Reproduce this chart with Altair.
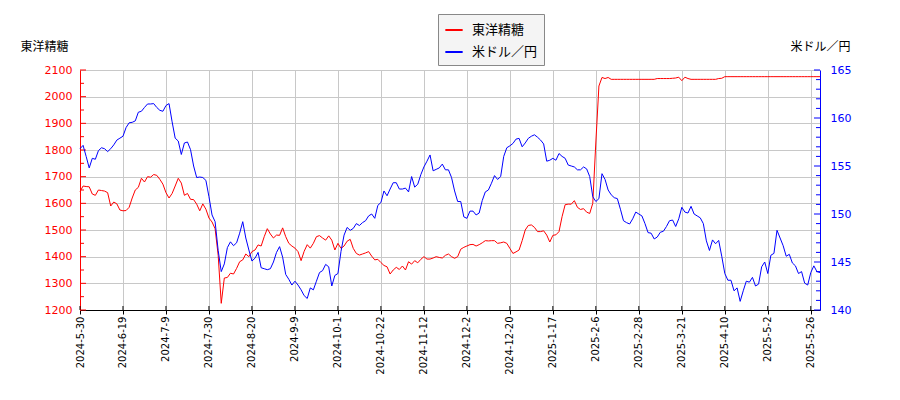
import json
import altair as alt
import pandas as pd

date_labels = ["2024-5-30", "2024-6-19", "2024-7-9", "2024-7-30", "2024-8-20",
               "2024-9-9", "2024-10-1", "2024-10-22", "2024-11-12", "2024-12-2",
               "2024-12-20", "2025-1-17", "2025-2-6", "2025-2-28", "2025-3-21",
               "2025-4-10", "2025-5-2", "2025-5-26"]
label_step = 14

series_names = ["東洋精糖", "米ドル／円"]

toyo = [
    1644, 1665, 1663, 1662, 1635, 1630, 1650, 1648, 1646, 1640,
    1590, 1605, 1598, 1575, 1572, 1573, 1585, 1620, 1650, 1660,
    1694, 1680, 1700, 1698, 1708, 1705, 1690, 1672, 1640, 1620,
    1637, 1665, 1694, 1676, 1630, 1637, 1615, 1614, 1597, 1572,
    1598, 1578, 1545, 1530, 1505, 1405, 1225, 1320, 1322, 1338,
    1335, 1356, 1381, 1388, 1410, 1400, 1419, 1425, 1444, 1440,
    1475, 1505, 1485, 1470, 1481, 1480, 1508, 1475, 1450, 1440,
    1432, 1419, 1385, 1420, 1445, 1432, 1450, 1475, 1479, 1470,
    1462, 1478, 1462, 1425, 1450, 1431, 1440, 1458, 1465, 1431,
    1412, 1406, 1410, 1414, 1419, 1402, 1388, 1390, 1378, 1367,
    1362, 1335, 1350, 1360, 1352, 1365, 1350, 1381, 1372, 1385,
    1377, 1390, 1400, 1391, 1391, 1395, 1400, 1397, 1395, 1405,
    1410, 1400, 1394, 1400, 1428, 1435, 1440, 1445, 1446, 1440,
    1445, 1452, 1460, 1459, 1460, 1460, 1450, 1452, 1455, 1450,
    1431, 1412, 1418, 1425, 1460, 1500, 1517, 1519, 1510, 1494,
    1494, 1497, 1481, 1455, 1480, 1482, 1494, 1550, 1595, 1597,
    1597, 1610, 1585, 1577, 1580, 1567, 1562, 1600, 1830, 2040,
    2072, 2068, 2072, 2065, 2065, 2065, 2065, 2065, 2065, 2065,
    2065, 2065, 2065, 2065, 2065, 2065, 2065, 2065, 2068, 2068,
    2068, 2068, 2068, 2069, 2070, 2073, 2060, 2073, 2068, 2065,
    2065, 2065, 2065, 2065, 2065, 2065, 2065, 2065, 2068, 2069,
    2075, 2075, 2075, 2075, 2075, 2075, 2075, 2075, 2075, 2075,
    2075, 2075, 2075, 2075, 2075, 2075, 2075, 2075, 2075, 2075,
    2075, 2075, 2075, 2075, 2075, 2075, 2075, 2075, 2075, 2075,
    2075, 2075,
]

usdjpy = [
    156.8, 157.15, 156.0, 154.8, 155.8, 155.7, 156.6, 156.9, 156.8, 156.5,
    156.8, 157.2, 157.7, 157.9, 158.1, 159.0, 159.5, 159.55, 159.7, 160.6,
    160.7, 161.1, 161.46, 161.46, 161.5, 161.1, 160.8, 160.7, 161.3, 161.5,
    159.6, 157.9, 157.6, 156.2, 157.4, 157.5, 156.7, 155.0, 153.8, 153.85,
    153.8, 153.5, 151.8, 149.9, 149.2, 146.2, 144.0, 144.8, 146.5, 147.1,
    146.7, 147.0, 148.0, 149.2, 147.5, 146.25, 145.1, 145.4, 146.0, 144.4,
    144.3, 144.2, 144.3, 145.0, 146.0, 146.6, 145.5, 143.7, 143.2, 142.6,
    143.0, 142.6, 142.1, 141.5, 141.2, 142.3, 142.1, 143.0, 143.9, 144.1,
    144.75, 144.5, 142.5, 143.6, 143.8, 146.1, 147.8, 148.6, 148.3, 148.5,
    149.0, 148.8, 149.1, 149.3, 149.8, 150.0, 149.55, 150.9, 151.2, 152.4,
    151.9, 152.6, 153.26, 153.26, 152.6, 152.6, 152.7, 152.3, 153.9, 152.8,
    153.1, 154.1, 154.9, 155.5, 156.15, 154.5, 154.65, 154.8, 155.2, 154.6,
    154.6, 153.8, 152.4, 151.3, 151.3, 149.7, 149.55, 150.3, 150.3, 149.9,
    150.1, 151.4, 152.3, 152.5, 153.2, 154.0, 153.6, 153.9, 156.0, 156.9,
    157.1, 157.35, 157.8, 157.88, 157.0, 157.4, 157.88, 158.1, 158.25, 158.0,
    157.7, 157.3, 155.5, 155.6, 155.8, 155.6, 156.3, 156.0, 155.8, 155.1,
    155.0, 154.9, 154.6, 154.6, 154.9, 154.7, 153.9, 151.8, 151.3, 151.6,
    154.2, 153.6, 152.5, 152.0, 151.7, 151.6, 150.5, 149.3, 149.1, 148.96,
    149.5, 150.2, 150.0, 149.8, 149.0, 148.06, 148.0, 147.4, 147.6, 148.1,
    148.2, 148.7, 149.3, 149.37, 148.7, 149.5, 150.7, 150.2, 150.1, 150.8,
    150.0, 149.8, 149.6, 149.0, 147.2, 146.2, 147.3, 146.9, 147.25, 145.6,
    143.8, 143.1, 143.1, 142.0, 142.3, 140.9, 142.0, 143.0, 142.9, 143.4,
    142.5, 142.7, 144.5, 145.0, 143.8, 145.7, 145.9, 148.3, 147.5, 146.7,
    145.6, 145.8, 144.9, 144.6, 143.8, 144.0, 142.8, 142.6, 143.9, 144.6,
    144.0, 143.9,
]

left_major = list(range(1200, 2101, 100))
left_minor = list(range(1250, 2101, 100))
right_major = list(range(140, 166, 5))
right_minor = [v for v in range(140, 166) if v % 5 != 0]

RED = "#ff0000"
BLUE = "#0000ff"
GRID = "#c8c8c8"
W, H = 740, 240

n = len(toyo)
assert len(usdjpy) == n
idx = list(range(n))
df_toyo = pd.DataFrame({"i": idx, "v": toyo, "s": series_names[0]})
df_usd = pd.DataFrame({"i": idx, "v": usdjpy, "s": series_names[1]})
x_ticks = [k * label_step for k in range(len(date_labels))]

x_scale = alt.Scale(domain=[0, n - 1], nice=False, zero=False)
left_scale = alt.Scale(domain=[1200, 2100], nice=False, zero=False)
right_scale = alt.Scale(domain=[140, 165], nice=False, zero=False)
color_scale = alt.Scale(domain=series_names, range=[RED, BLUE])

label_expr = f"{json.dumps(date_labels)}[round(datum.value / {label_step})]"

x_axis = alt.Axis(
    values=x_ticks, labelExpr=label_expr, labelAngle=-90, labelFontSize=10,
    labelColor="black", labelFont="DejaVu Sans", labelPadding=2,
    tickColor="black", tickSize=4, domainColor="black", grid=True,
    gridColor=GRID, title=None, labelOverlap=False, labelBound=False)

left_axis = alt.Axis(
    values=left_major, format="d", title="東洋精糖", titleAngle=0, titleX=-60,
    titleY=-24, titleAlign="left", titleBaseline="middle",
    titleFontSize=12, titleFontWeight="normal", titleColor="black",
    titleFont="Noto Sans CJK JP", labelColor=RED, labelFontSize=11,
    labelFont="DejaVu Sans", labelPadding=8, ticks=False,
    domainColor=RED, grid=True, gridColor=GRID)

right_axis = alt.Axis(
    orient="right", values=right_major, format="d", title="米ドル／円",
    titleAngle=0, titleX=30, titleY=-24, titleAlign="right",
    titleBaseline="middle", titleFontSize=12, titleFontWeight="normal",
    titleColor="black", titleFont="Noto Sans CJK JP", labelColor=BLUE,
    labelFontSize=11, labelFont="DejaVu Sans", labelPadding=10, ticks=False,
    domainColor=BLUE, grid=False)

legend = alt.Legend(
    orient="none", legendX=358, legendY=-56, title=None, symbolType="stroke",
    symbolSize=300, symbolStrokeWidth=2, labelFontSize=13,
    labelFont="Noto Sans CJK JP", labelColor="black", fillColor="#f4f4f4",
    strokeColor="#888888", padding=6, rowPadding=5, labelOffset=8)

red_line = alt.Chart(df_toyo).mark_line(strokeWidth=1).encode(
    x=alt.X("i:Q", scale=x_scale, axis=x_axis),
    y=alt.Y("v:Q", scale=left_scale, axis=left_axis),
    color=alt.Color("s:N", scale=color_scale, legend=legend),
)
red_major = alt.Chart(pd.DataFrame({"v": left_major})).mark_rule(
    color=RED, strokeWidth=1).encode(
    y=alt.Y("v:Q", scale=left_scale, axis=left_axis),
    x=alt.value(0), x2=alt.value(6))
red_minor = alt.Chart(pd.DataFrame({"v": left_minor})).mark_rule(
    color=RED, strokeWidth=1).encode(
    y=alt.Y("v:Q", scale=left_scale, axis=left_axis),
    x=alt.value(0), x2=alt.value(4))
x_inner = alt.Chart(pd.DataFrame({"i": x_ticks})).mark_rule(
    color="black", strokeWidth=1).encode(
    x=alt.X("i:Q", scale=x_scale, axis=x_axis),
    y=alt.value(H), y2=alt.value(H - 4))

left_group = alt.layer(red_line, red_major, red_minor, x_inner)

blue_line = alt.Chart(df_usd).mark_line(strokeWidth=1).encode(
    x=alt.X("i:Q", scale=x_scale, axis=x_axis),
    y=alt.Y("v:Q", scale=right_scale, axis=right_axis),
    color=alt.Color("s:N", scale=color_scale, legend=legend),
)
blue_major = alt.Chart(pd.DataFrame({"v": right_major})).mark_rule(
    color=BLUE, strokeWidth=1).encode(
    y=alt.Y("v:Q", scale=right_scale, axis=right_axis),
    x=alt.value(W), x2=alt.value(W - 6))
blue_minor = alt.Chart(pd.DataFrame({"v": right_minor})).mark_rule(
    color=BLUE, strokeWidth=1).encode(
    y=alt.Y("v:Q", scale=right_scale, axis=right_axis),
    x=alt.value(W), x2=alt.value(W - 4))

right_group = alt.layer(blue_line, blue_major, blue_minor)

chart = alt.layer(left_group, right_group).resolve_scale(
    y="independent"
).properties(
    width=W, height=H,
    padding={"left": 72, "top": 62, "right": 72, "bottom": 82},
    autosize=alt.AutoSizeParams(type="none"),
    background="white",
).configure_view(stroke=None)

chart.save("out.html", embed_options={"renderer": "svg", "actions": False})
